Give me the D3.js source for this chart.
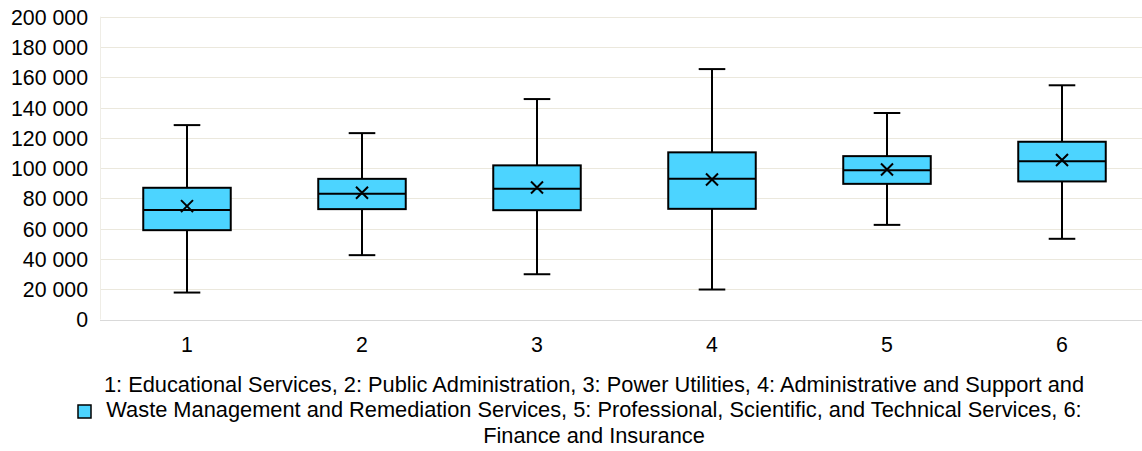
<!DOCTYPE html>
<html>
<head>
<meta charset="utf-8">
<script src="https://cdn.jsdelivr.net/npm/d3@7"></script>
<style>
  html, body { margin: 0; padding: 0; background: #fff; }
  svg { display: block; }
  text { font-family: "Liberation Sans", Arial, sans-serif; fill: #000; }
</style>
</head>
<body>
<svg id="chart" width="1142" height="451"></svg>
<script>
// ---- data ----
const categories = ["1", "2", "3", "4", "5", "6"];
const whiskerLow  = [17800, 42500, 29900, 19800, 62500, 53300];
const q1Values    = [59000, 72900, 72200, 73100, 89600, 91200];
const medians     = [72400, 83000, 86300, 92900, 98500, 104600];
const q3Values    = [87000, 92900, 101800, 110400, 107900, 117400];
const whiskerHigh = [128400, 123100, 145600, 165400, 136400, 154700];
const means       = [74900, 83700, 87200, 92500, 99100, 105300];
const yTicks = [0, 20000, 40000, 60000, 80000, 100000, 120000, 140000, 160000, 180000, 200000];
const legendLines = [
  "1: Educational Services, 2: Public Administration, 3: Power Utilities, 4: Administrative and Support and",
  "Waste Management and Remediation Services, 5: Professional, Scientific, and Technical Services, 6:",
  "Finance and Insurance"
];

// ---- layout ----
const svg = d3.select("#chart");
const plotLeft = 100, plotRight = 1142;
const y = d3.scaleLinear().domain([0, 200000]).range([319.5, 16.7]);
const x = d3.scaleBand().domain(categories).range([99.5, 1149.5]).paddingInner(0).paddingOuter(0);
const boxW = x.bandwidth() * 0.5;
const capW = x.bandwidth() * 0.152;
const fmt = v => d3.format(",")(v).replace(/,/g, " ");

// gridlines
svg.append("g").selectAll("line").data(yTicks.filter(t => t > 0)).join("line")
  .attr("x1", plotLeft).attr("x2", plotRight)
  .attr("y1", d => Math.round(y(d)) + 0.5).attr("y2", d => Math.round(y(d)) + 0.5)
  .attr("stroke", "#ebe8dd").attr("stroke-width", 1);

// left border line
svg.append("line").attr("x1", plotLeft + 0.5).attr("x2", plotLeft + 0.5)
  .attr("y1", y(200000)).attr("y2", y(0))
  .attr("stroke", "#efede6").attr("stroke-width", 1);

// bottom axis line
svg.append("line").attr("x1", plotLeft).attr("x2", plotRight)
  .attr("y1", Math.round(y(0)) + 0.5).attr("y2", Math.round(y(0)) + 0.5)
  .attr("stroke", "#d9d9d9").attr("stroke-width", 1);

// y axis labels via d3 axis
const yAxis = d3.axisLeft(y).tickValues(yTicks).tickFormat(fmt).tickSize(0).tickPadding(0);
const gy = svg.append("g").attr("transform", "translate(88,0)").call(yAxis);
gy.select(".domain").remove();
gy.selectAll("text").attr("font-size", 21.3).attr("font-family", "Liberation Sans, Arial, sans-serif")
  .attr("fill", "#000").attr("dy", "0.35em").attr("x", 0);

// x axis labels
const xAxis = d3.axisBottom(x).tickSize(0).tickPadding(0);
const gx = svg.append("g").attr("transform", "translate(0,352)").call(xAxis);
gx.select(".domain").remove();
gx.selectAll("text").attr("font-size", 21.3).attr("font-family", "Liberation Sans, Arial, sans-serif")
  .attr("fill", "#000").attr("dy", 0).attr("y", 0);

// boxes
const data = categories.map((c, i) => ({
  c, lo: whiskerLow[i], q1: q1Values[i], med: medians[i], q3: q3Values[i], hi: whiskerHigh[i], mean: means[i]
}));
const g = svg.append("g").attr("stroke", "#000").attr("stroke-width", 2);
const box = g.selectAll("g.box").data(data).join("g").attr("class", "box");
const cx = d => x(d.c) + x.bandwidth() / 2;

// whiskers
box.append("line").attr("x1", cx).attr("x2", cx).attr("y1", d => y(d.hi)).attr("y2", d => y(d.q3));
box.append("line").attr("x1", cx).attr("x2", cx).attr("y1", d => y(d.q1)).attr("y2", d => y(d.lo));
box.append("line").attr("x1", d => cx(d) - capW / 2).attr("x2", d => cx(d) + capW / 2)
  .attr("y1", d => y(d.hi)).attr("y2", d => y(d.hi));
box.append("line").attr("x1", d => cx(d) - capW / 2).attr("x2", d => cx(d) + capW / 2)
  .attr("y1", d => y(d.lo)).attr("y2", d => y(d.lo));
// box
box.append("rect").attr("x", d => cx(d) - boxW / 2).attr("width", boxW)
  .attr("y", d => y(d.q3)).attr("height", d => y(d.q1) - y(d.q3))
  .attr("fill", "#4cd4ff");
// median
box.append("line").attr("x1", d => cx(d) - boxW / 2).attr("x2", d => cx(d) + boxW / 2)
  .attr("y1", d => y(d.med)).attr("y2", d => y(d.med));
// mean marker (x)
const ms = 6;
box.append("path").attr("fill", "none")
  .attr("d", d => {
    const px = cx(d), py = y(d.mean);
    return `M${px - ms},${py - ms}L${px + ms},${py + ms}M${px - ms},${py + ms}L${px + ms},${py - ms}`;
  });

// legend (one text block with wrapped lines)
svg.append("rect").attr("x", 78).attr("y", 405).attr("width", 13).attr("height", 13)
  .attr("fill", "#4cd4ff").attr("stroke", "#000").attr("stroke-width", 1.5);
const legBase = [392, 417, 443];
const legText = svg.append("text").attr("text-anchor", "middle").attr("font-size", 21.8);
legText.selectAll("tspan").data(legendLines).join("tspan")
  .attr("x", 594).attr("y", (d, i) => legBase[i])
  .text(d => d);
</script>
</body>
</html>
